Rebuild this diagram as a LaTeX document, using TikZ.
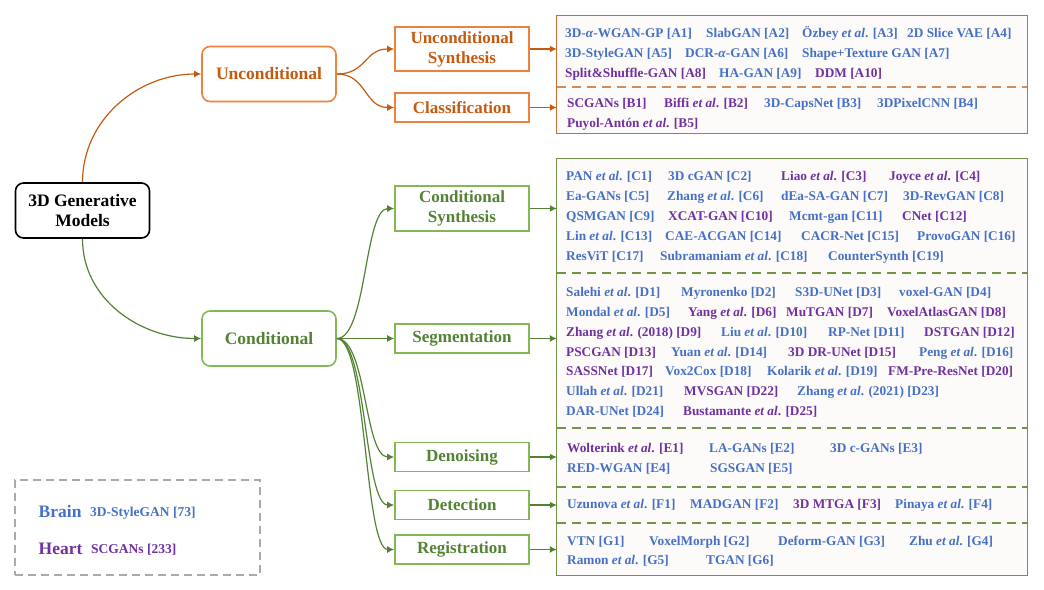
\documentclass[tikz,border=0pt]{standalone}
\usepackage{fontspec}
\setmainfont{Liberation Serif}
\usetikzlibrary{arrows.meta}
\definecolor{cblue}{RGB}{70,112,198}
\definecolor{cpurp}{RGB}{112,48,160}
\definecolor{corg}{RGB}{197,90,17}
\definecolor{corgl}{RGB}{236,130,60}
\definecolor{corgbox}{RGB}{200,110,50}
\definecolor{corgdash}{RGB}{210,140,90}
\definecolor{cgrn}{RGB}{84,130,53}
\definecolor{cgrnl}{RGB}{130,185,85}
\definecolor{cgrnbox}{RGB}{110,150,70}
\definecolor{cfill}{RGB}{252,251,249}
\definecolor{cgray}{RGB}{170,170,170}
\tikzset{
  it/.style={anchor=base west, inner sep=0pt, font=\fontsize{13.3}{16}\selectfont\bfseries},
  cb/.style={text=cblue},
  cp/.style={text=cpurp},
  topnode/.style={draw, rounded corners=8pt, line width=1.6pt, minimum width=134pt, minimum height=55pt, align=center, font=\fontsize{17.5}{20}\selectfont\bfseries, inner sep=0pt},
  catbox/.style={draw, line width=1.6pt, minimum width=134pt, align=center, font=\fontsize{17}{20}\selectfont\bfseries, inner sep=0pt},
  orgnode/.style={draw=corgl, text=corg},
  grnnode/.style={draw=cgrnl, text=cgrn},
  sec/.style={draw=none, fill=cfill, minimum width=470pt, inner sep=0pt},
  orgarr/.style={draw=corg, line width=1.2pt, -{Latex[length=7pt,width=7pt]}},
  grnarr/.style={draw=cgrn, line width=1.2pt, -{Latex[length=7pt,width=7pt]}},
  legtxt/.style={anchor=base west, inner sep=0pt},
}
\begin{document}
\begin{tikzpicture}[x=1pt,y=-1pt]
\useasboundingbox (0,0) rectangle (1044,589);

% ---- main nodes ----
\node[topnode, draw=black, text=black] (root) at (82.5,210.5) {3D Generative\\Models};
\node[topnode, orgnode] (uncond) at (269,74) {Unconditional};
\node[topnode, grnnode] (cond) at (269,338.5) {Conditional};

\node[catbox, orgnode, minimum height=44pt] (us) at (462,49) {Unconditional\\Synthesis};
\node[catbox, orgnode, minimum height=29pt] (cls) at (462,107.5) {Classification};
\node[catbox, grnnode, minimum height=45pt] (cs) at (462,208.5) {Conditional\\Synthesis};
\node[catbox, grnnode, minimum height=29pt] (seg) at (462,338.5) {Segmentation};
\node[catbox, grnnode, minimum height=29pt] (den) at (462,457) {Denoising};
\node[catbox, grnnode, minimum height=29pt] (det) at (462,505) {Detection};
\node[catbox, grnnode, minimum height=29pt] (reg) at (462,549.5) {Registration};

% ---- right sections ----
\node[sec, minimum height=71pt] (secA) at (792,51.5) {};
\node[sec, minimum height=46pt] (secB) at (792,110) {};
\node[sec, minimum height=114pt] (secC) at (792,216) {};
\node[sec, minimum height=155pt] (secD) at (792,350.5) {};
\node[sec, minimum height=59pt] (secE) at (792,457.5) {};
\node[sec, minimum height=36pt] (secF) at (792,505) {};
\node[sec, minimum height=52pt] (secG) at (792,549) {};

\draw[draw=corgbox, line width=1.2pt] (secA.north west) rectangle (secB.south east);
\draw[draw=corgdash, line width=1.5pt, dash pattern=on 9pt off 6pt] (secA.south west) -- (secA.south east);
\draw[draw=cgrnbox, line width=1.2pt] (secC.north west) rectangle (secG.south east);
\foreach \s in {secC,secD,secE,secF}
  \draw[draw=cgrnbox, line width=1.5pt, dash pattern=on 9pt off 6pt] (\s.south west) -- (\s.south east);

% ---- connectors ----
\draw[orgarr] (root.north) to[out=90,in=180] (uncond.west);
\draw[grnarr] (root.south) to[out=-90,in=180] (cond.west);
\draw[orgarr] (uncond.east) .. controls +(30,0) and +(-30,0) .. (us.west);
\draw[orgarr] (uncond.east) .. controls +(30,0) and +(-30,0) .. (cls.west);
\draw[grnarr] (cond.east) .. controls +(30,0) and +(-30,0) .. (cs.west);
\draw[grnarr] (cond.east) -- (seg.west);
\draw[grnarr] (cond.east) .. controls +(30,0) and +(-30,0) .. (den.west);
\draw[grnarr] (cond.east) .. controls +(30,0) and +(-30,0) .. (det.west);
\draw[grnarr] (cond.east) .. controls +(30,0) and +(-30,0) .. (reg.west);

\draw[orgarr] (us.east) -- (us.east -| secA.west);
\draw[orgarr] (cls.east) -- (cls.east -| secB.west);
\draw[grnarr] (cs.east) -- (cs.east -| secC.west);
\draw[grnarr] (seg.east) -- (seg.east -| secD.west);
\draw[grnarr] (den.east) -- (den.east -| secE.west);
\draw[grnarr] (det.east) -- (det.east -| secF.west);
\draw[grnarr] (reg.east) -- (reg.east -| secG.west);

% ---- A ----
\node[it,cb] (a1) at (565,37.5) {3D-\textit{α}-WGAN-GP [A1]};
\node[it,cb] (a2) at (706,37.5) {SlabGAN [A2]};
\node[it,cb] (a3) at (802,37.5) {Özbey \textit{et al}. [A3]};
\node[it,cb] (a4) at (907,37.5) {2D Slice VAE [A4]};
\node[it,cb] (a5) at (565,57.5) {3D-StyleGAN [A5]};
\node[it,cb] (a6) at (685,57.5) {DCR-\textit{α}-GAN [A6]};
\node[it,cb] (a7) at (802,57.5) {Shape+Texture GAN [A7]};
\node[it,cp] (a8) at (565,77.5) {Split\&Shuffle-GAN [A8]};
\node[it,cb] (a9) at (719,77.5) {HA-GAN [A9]};
\node[it,cp] (a10) at (815,77.5) {DDM [A10]};
% ---- B ----
\node[it,cp] (b1) at (567,107.5) {SCGANs [B1]};
\node[it,cp] (b2) at (664,107.5) {Biffi \textit{et al}. [B2]};
\node[it,cb] (b3) at (764,107.5) {3D-CapsNet [B3]};
\node[it,cb] (b4) at (877,107.5) {3DPixelCNN [B4]};
\node[it,cp] (b5) at (567,127.5) {Puyol-Antón \textit{et al}. [B5]};
% ---- C ----
\node[it,cb] (c1) at (566,180) {PAN \textit{et al}. [C1]};
\node[it,cb] (c2) at (668,180) {3D cGAN [C2]};
\node[it,cp] (c3) at (781,180) {Liao \textit{et al}. [C3]};
\node[it,cp] (c4) at (889,180) {Joyce \textit{et al}. [C4]};
\node[it,cb] (c5) at (566,200) {Ea-GANs [C5]};
\node[it,cb] (c6) at (667,200) {Zhang \textit{et al}. [C6]};
\node[it,cb] (c7) at (781,200) {dEa-SA-GAN [C7]};
\node[it,cb] (c8) at (903,200) {3D-RevGAN [C8]};
\node[it,cb] (c9) at (566,220) {QSMGAN [C9]};
\node[it,cp] (c10) at (668,220) {XCAT-GAN [C10]};
\node[it,cb] (c11) at (789,220) {Mcmt-gan [C11]};
\node[it,cp] (c12) at (902,220) {CNet [C12]};
\node[it,cb] (c13) at (566,240) {Lin \textit{et al}. [C13]};
\node[it,cb] (c14) at (665,240) {CAE-ACGAN [C14]};
\node[it,cb] (c15) at (801,240) {CACR-Net [C15]};
\node[it,cb] (c16) at (917,240) {ProvoGAN [C16]};
\node[it,cb] (c17) at (566,260) {ResViT [C17]};
\node[it,cb] (c18) at (660,260) {Subramaniam \textit{et al}. [C18]};
\node[it,cb] (c19) at (828,260) {CounterSynth [C19]};
% ---- D ----
\node[it,cb] (d1) at (566,296.5) {Salehi \textit{et al}. [D1]};
\node[it,cb] (d2) at (681,296.5) {Myronenko [D2]};
\node[it,cb] (d3) at (795,296.5) {S3D-UNet [D3]};
\node[it,cb] (d4) at (899,296.5) {voxel-GAN [D4]};
\node[it,cb] (d5) at (566,316.5) {Mondal \textit{et al}. [D5]};
\node[it,cp] (d6) at (688,316.5) {Yang \textit{et al}. [D6]};
\node[it,cp] (d7) at (786,316.5) {MuTGAN [D7]};
\node[it,cp] (d8) at (887,316.5) {VoxelAtlasGAN [D8]};
\node[it,cp] (d9) at (566,336.5) {Zhang \textit{et al}. (2018) [D9]};
\node[it,cb] (d10) at (721,336.5) {Liu \textit{et al}. [D10]};
\node[it,cb] (d11) at (828,336.5) {RP-Net [D11]};
\node[it,cp] (d12) at (924,336.5) {DSTGAN [D12]};
\node[it,cp] (d13) at (566,356) {PSCGAN [D13]};
\node[it,cb] (d14) at (671,356) {Yuan \textit{et al}. [D14]};
\node[it,cp] (d15) at (788,356) {3D DR-UNet [D15]};
\node[it,cb] (d16) at (919,356) {Peng \textit{et al}. [D16]};
\node[it,cp] (d17) at (566,375.5) {SASSNet [D17]};
\node[it,cb] (d18) at (665,375.5) {Vox2Cox [D18]};
\node[it,cb] (d19) at (767,375.5) {Kolarik \textit{et al}. [D19]};
\node[it,cp] (d20) at (888,375.5) {FM-Pre-ResNet [D20]};
\node[it,cb] (d21) at (566,395.5) {Ullah \textit{et al}. [D21]};
\node[it,cp] (d22) at (684,395.5) {MVSGAN [D22]};
\node[it,cb] (d23) at (797,395.5) {Zhang \textit{et al}. (2021) [D23]};
\node[it,cb] (d24) at (566,415.5) {DAR-UNet [D24]};
\node[it,cp] (d25) at (683,415.5) {Bustamante \textit{et al}. [D25]};
% ---- E ----
\node[it,cp] (e1) at (567,452.5) {Wolterink \textit{et al}. [E1]};
\node[it,cb] (e2) at (709,452.5) {LA-GANs [E2]};
\node[it,cb] (e3) at (830,452.5) {3D c-GANs [E3]};
\node[it,cb] (e4) at (567,472.5) {RED-WGAN [E4]};
\node[it,cb] (e5) at (710,472.5) {SGSGAN [E5]};
% ---- F ----
\node[it,cb] (f1) at (567,508.5) {Uzunova \textit{et al}. [F1]};
\node[it,cb] (f2) at (690,508.5) {MADGAN [F2]};
\node[it,cp] (f3) at (793,508.5) {3D MTGA [F3]};
\node[it,cb] (f4) at (895,508.5) {Pinaya \textit{et al}. [F4]};
% ---- G ----
\node[it,cb] (g1) at (567,545.5) {VTN [G1]};
\node[it,cb] (g2) at (649,545.5) {VoxelMorph [G2]};
\node[it,cb] (g3) at (778,545.5) {Deform-GAN [G3]};
\node[it,cb] (g4) at (909,545.5) {Zhu \textit{et al}. [G4]};
\node[it,cb] (g5) at (567,564.5) {Ramon \textit{et al}. [G5]};
\node[it,cb] (g6) at (706,564.5) {TGAN [G6]};

% ---- legend ----
\node[draw=cgray, line width=1.2pt, dash pattern=on 8pt off 5pt, minimum width=245pt, minimum height=95pt, inner sep=0pt] (legend) at (137.5,527.5) {};
\node[legtxt, text=cblue, font=\fontsize{17.5}{20}\selectfont\bfseries] (lbrain) at (38.5,517) {Brain};
\node[legtxt, text=cblue, font=\fontsize{13.5}{15}\selectfont\bfseries] (lbrainx) at (90,516) {3D-StyleGAN [73]};
\node[legtxt, text=cpurp, font=\fontsize{17.5}{20}\selectfont\bfseries] (lheart) at (38.5,554) {Heart};
\node[legtxt, text=cpurp, font=\fontsize{13.5}{15}\selectfont\bfseries] (lheartx) at (91,553) {SCGANs [233]};
\end{tikzpicture}
\end{document}
